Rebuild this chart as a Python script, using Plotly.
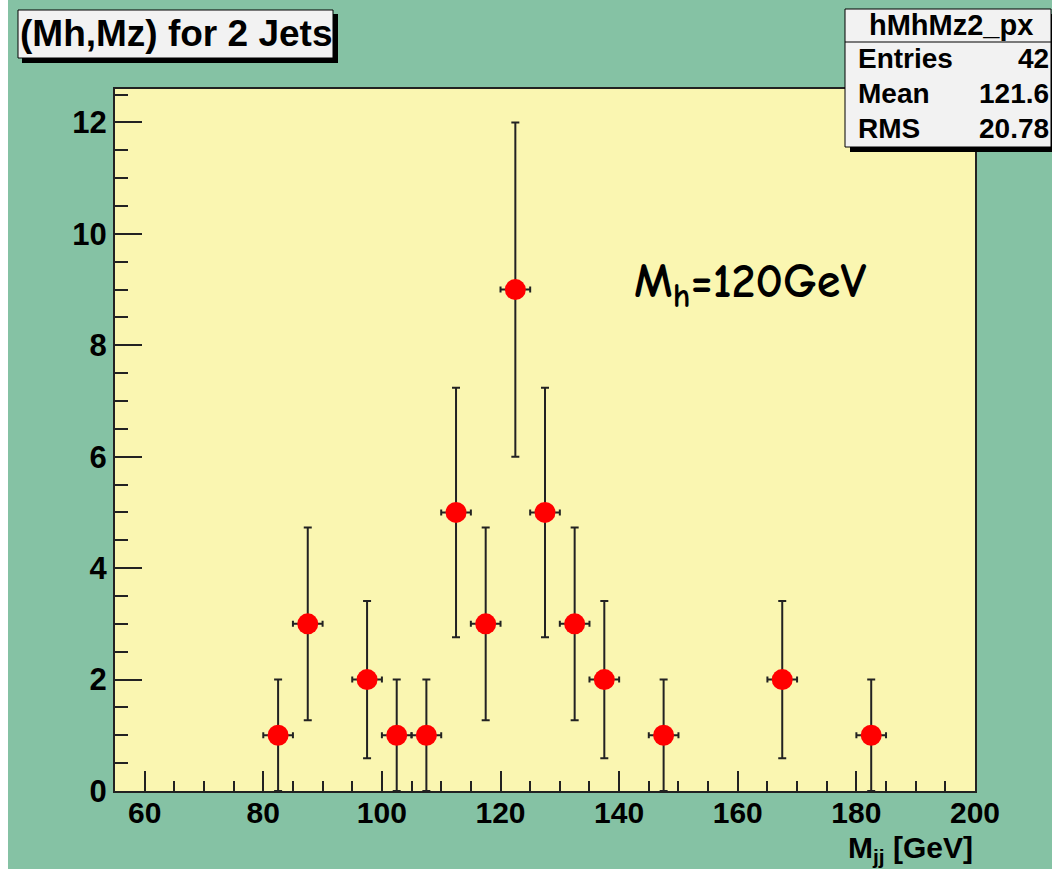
import plotly.graph_objects as go

# ---- data ----
bin_centers = [82.5, 87.5, 97.5, 102.5, 107.5, 112.5, 117.5, 122.5, 127.5, 132.5, 137.5, 147.5, 167.5, 182.5]
counts = [1, 3, 2, 1, 1, 5, 3, 9, 5, 3, 2, 1, 2, 1]
count_errors = [1.0, 1.73, 1.41, 1.0, 1.0, 2.24, 1.73, 3.0, 2.24, 1.73, 1.41, 1.0, 1.41, 1.0]
bin_half_widths = [2.5] * len(bin_centers)

x_ticks = [60, 80, 100, 120, 140, 160, 180, 200]
y_ticks = [0, 2, 4, 6, 8, 10, 12]

title_text = "(Mh,Mz) for 2 Jets"
stats_name = "hMhMz2_px"
stats_labels = ["Entries", "Mean", "RMS"]
stats_values = ["42", "121.6", "20.78"]

# ---- geometry ----
W, H = 1052, 869
L, R, T, B = 115, 975, 89, 791
pw, ph = R - L, B - T


def px(x):
    return (x - L) / pw


def py(y):
    return (B - y) / ph


GREEN = "#85C2A4"
YELLOW = "#FAF6B1"
BOLD = "Liberation Sans, Arial, sans-serif"

fig = go.Figure()
fig.add_trace(go.Scatter(
    x=bin_centers, y=counts, mode="markers",
    marker=dict(color="#FF0000", size=21, symbol="circle", line=dict(width=0)),
    error_y=dict(type="data", array=count_errors, color="#222222", thickness=2, width=4),
    error_x=dict(type="data", array=bin_half_widths, color="#222222", thickness=2, width=3),
    showlegend=False, hoverinfo="x+y",
))

shapes = []
# white strip at far left
shapes.append(dict(type="rect", xref="paper", yref="paper", x0=px(0), x1=px(8), y0=py(H), y1=py(0),
                   fillcolor="white", line=dict(width=0), layer="above"))
# title box shadow + box
shapes.append(dict(type="rect", xref="paper", yref="paper", x0=px(22), x1=px(338), y0=py(63), y1=py(14),
                   fillcolor="black", line=dict(width=0), layer="above"))
shapes.append(dict(type="rect", xref="paper", yref="paper", x0=px(18), x1=px(333), y0=py(58), y1=py(10),
                   fillcolor="#F2F2F2", line=dict(color="black", width=1), layer="above"))
# stats box shadow + box
shapes.append(dict(type="rect", xref="paper", yref="paper", x0=px(850), x1=px(1056), y0=py(152), y1=py(14),
                   fillcolor="black", line=dict(width=0), layer="above"))
shapes.append(dict(type="rect", xref="paper", yref="paper", x0=px(845), x1=px(1051), y0=py(147), y1=py(9),
                   fillcolor="#F2F2F2", line=dict(color="black", width=1), layer="above"))
shapes.append(dict(type="line", xref="paper", yref="paper", x0=px(845), x1=px(1051), y0=py(42), y1=py(42),
                   line=dict(color="black", width=1), layer="above"))

annotations = []
annotations.append(dict(text=f"<b>{title_text}</b>", xref="paper", yref="paper",
                        x=px(175.5), y=py(34), xanchor="center", yanchor="middle", showarrow=False,
                        font=dict(family=BOLD, size=37, color="black")))
annotations.append(dict(text=f"<b>{stats_name}</b>", xref="paper", yref="paper",
                        x=px(951), y=py(25), xanchor="center", yanchor="middle", showarrow=False,
                        font=dict(family=BOLD, size=29, color="black")))
row_y = [58, 93, 128]
for lab, val, ry in zip(stats_labels, stats_values, row_y):
    annotations.append(dict(text=f"<b>{lab}</b>", xref="paper", yref="paper",
                            x=px(856), y=py(ry), xanchor="left", yanchor="middle", showarrow=False,
                            font=dict(family=BOLD, size=28, color="black")))
    annotations.append(dict(text=f"<b>{val}</b>", xref="paper", yref="paper",
                            x=px(1051), y=py(ry), xanchor="right", yanchor="middle", showarrow=False,
                            font=dict(family=BOLD, size=28, color="black")))
# x axis title
annotations.append(dict(text="<b>M<sub>jj</sub> [GeV]</b>", xref="paper", yref="paper",
                        x=1.0, y=py(849), xanchor="right", yanchor="middle", showarrow=False,
                        font=dict(family=BOLD, size=30, color="black")))
# Higgs mass label
annotations.append(dict(text="<b>M<sub>h</sub>=120GeV</b>", xref="paper", yref="paper",
                        x=px(750), y=py(284), xanchor="center", yanchor="middle", showarrow=False,
                        font=dict(family="Comic Sans MS, Comic Neue, Noto Sans, sans-serif", size=48, color="black")))

fig.update_layout(
    width=W, height=H,
    margin=dict(l=L, r=W - R, t=T, b=H - B),
    paper_bgcolor=GREEN, plot_bgcolor=YELLOW,
    shapes=shapes, annotations=annotations,
    xaxis=dict(range=[55, 200], tickmode="array", tickvals=x_ticks,
               ticktext=[f"<b>{v}</b>" for v in x_ticks],
               ticks="inside", ticklen=20, tickwidth=2, tickcolor="#222222",
               minor=dict(dtick=5, tick0=0, ticks="inside", ticklen=10, tickwidth=2, tickcolor="#222222"),
               showline=True, linecolor="#222222", linewidth=2, mirror=True,
               showgrid=False, zeroline=False, ticklabelstandoff=-6,
               tickfont=dict(family=BOLD, size=30, color="black")),
    yaxis=dict(range=[0, 12.6], tickmode="array", tickvals=y_ticks,
               ticktext=[f"<b>{v}</b>" for v in y_ticks],
               ticks="inside", ticklen=27, tickwidth=2, tickcolor="#222222",
               minor=dict(dtick=0.5, tick0=0, ticks="inside", ticklen=13, tickwidth=2, tickcolor="#222222"),
               showline=True, linecolor="#222222", linewidth=2, mirror=True,
               showgrid=False, zeroline=False,
               tickfont=dict(family=BOLD, size=31, color="black")),
)

fig.write_html("out.html")
